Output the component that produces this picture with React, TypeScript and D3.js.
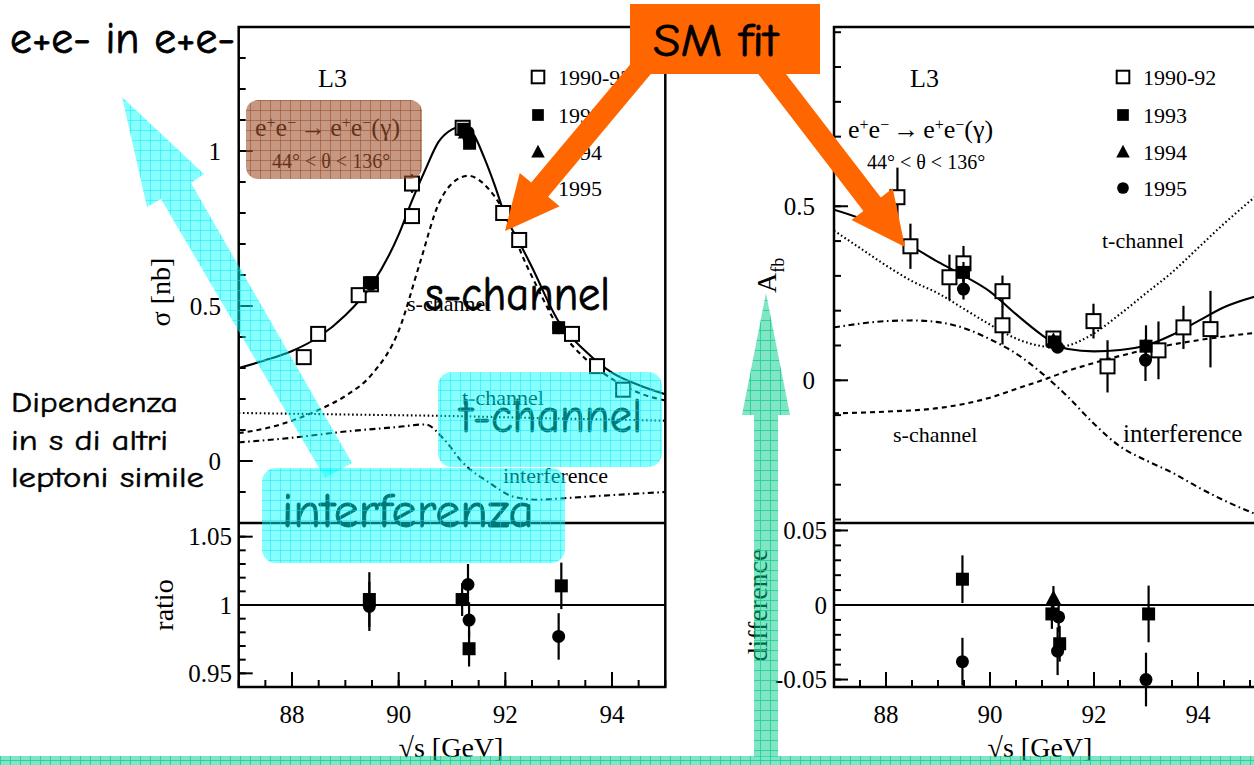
import React from "react";
import * as d3 from "d3";

type Pt = [number, number, number]; // √s, value, error
type XY = [number, number];

// ---------- e+e- → e+e-(γ) cross section (left panel) ----------
const SIGMA_9092: Pt[] = [
  [88.22, 0.335, 0.02], [88.49, 0.41, 0.015], [89.25, 0.535, 0.015], [89.48, 0.57, 0.015],
  [90.25, 0.79, 0.025], [90.25, 0.895, 0.03], [91.2, 1.075, 0.02], [91.96, 0.8, 0.02],
  [92.26, 0.713, 0.02], [93.25, 0.41, 0.015], [93.72, 0.306, 0.015], [94.21, 0.23, 0.015],
];
const SIGMA_93: Pt[] = [[89.48, 0.575, 0.01], [91.22, 1.07, 0.01], [91.33, 1.025, 0.01], [93.0, 0.43, 0.01]];
const SIGMA_94: Pt[] = [[91.25, 1.06, 0.01]];
const SIGMA_95: Pt[] = [[89.48, 0.57, 0.01], [91.3, 1.06, 0.01], [91.32, 1.04, 0.01], [93.0, 0.43, 0.01]];

const SIGMA_FIT: XY[] = [
  [87, 0.3], [87.5, 0.325], [88, 0.355], [88.5, 0.4], [89, 0.47], [89.5, 0.57], [90, 0.73],
  [90.25, 0.84], [90.5, 0.94], [90.75, 1.03], [91, 1.07], [91.2, 1.08], [91.4, 1.055],
  [91.6, 0.98], [91.8, 0.89], [92, 0.79], [92.25, 0.71], [92.5, 0.625], [93, 0.45],
  [93.5, 0.355], [94, 0.285], [94.5, 0.245], [95, 0.215],
];
const SIGMA_S: XY[] = [
  [87, 0.09], [87.5, 0.105], [88, 0.13], [88.5, 0.165], [89, 0.21], [89.5, 0.28], [90, 0.42],
  [90.4, 0.64], [90.75, 0.83], [91, 0.895], [91.3, 0.92], [91.7, 0.875], [92.1, 0.76],
  [92.3, 0.67], [92.6, 0.56], [93, 0.43], [93.5, 0.33], [94, 0.265], [94.5, 0.22], [95, 0.195],
];
const SIGMA_T: XY[] = [[87, 0.155], [89, 0.15], [91, 0.145], [93, 0.137], [95, 0.13]];
const SIGMA_INT: XY[] = [
  [87, 0.06], [88, 0.075], [89, 0.095], [90, 0.11], [90.5, 0.118], [90.85, 0.07], [91.2, -0.005],
  [91.7, -0.07], [92.15, -0.115], [92.6, -0.125], [93.1, -0.12], [94, -0.11], [95, -0.1],
];
const RATIO_93: Pt[] = [[89.45, 1.004, 0.02], [91.19, 1.004, 0.012], [91.32, 0.968, 0.013], [93.05, 1.014, 0.017]];
const RATIO_95: Pt[] = [[89.45, 0.999, 0.018], [91.3, 1.015, 0.015], [91.32, 0.989, 0.013], [93.0, 0.977, 0.017]];

// ---------- forward-backward asymmetry (right panel) ----------
const AFB_9092: Pt[] = [
  [88.22, 0.526, 0.085], [88.47, 0.385, 0.065], [89.22, 0.296, 0.065], [89.49, 0.336, 0.05],
  [90.24, 0.256, 0.045], [90.24, 0.158, 0.055], [91.22, 0.12, 0.02], [91.99, 0.17, 0.05],
  [92.26, 0.04, 0.075], [93.24, 0.086, 0.083], [93.72, 0.152, 0.062], [94.24, 0.147, 0.11],
];
const AFB_93: Pt[] = [[89.49, 0.31, 0.03], [91.24, 0.11, 0.015], [93.0, 0.098, 0.06]];
const AFB_94: Pt[] = [[91.22, 0.115, 0.015]];
const AFB_95: Pt[] = [[89.49, 0.262, 0.03], [91.3, 0.095, 0.015], [92.99, 0.058, 0.06]];

const AFB_FIT: XY[] = [
  [87, 0.49], [87.5, 0.465], [88, 0.43], [88.5, 0.385], [89, 0.34], [89.5, 0.3], [90, 0.255],
  [90.5, 0.19], [91, 0.13], [91.25, 0.105], [91.5, 0.09], [92, 0.083], [92.5, 0.087],
  [93, 0.1], [93.5, 0.13], [94, 0.17], [94.5, 0.21], [95.2, 0.245],
];
const AFB_T: XY[] = [
  [87, 0.43], [87.5, 0.38], [88, 0.33], [88.5, 0.285], [89, 0.25], [89.5, 0.205], [90, 0.16],
  [90.5, 0.12], [91, 0.098], [91.25, 0.095], [91.5, 0.1], [92, 0.135], [92.5, 0.19],
  [93, 0.25], [93.5, 0.31], [94, 0.38], [94.5, 0.45], [95.2, 0.54],
];
const AFB_S: XY[] = [
  [87, -0.095], [88, -0.09], [89, -0.08], [89.5, -0.068], [90, -0.05], [90.5, -0.025],
  [91, 0], [91.5, 0.027], [92, 0.05], [92.5, 0.07], [93, 0.088], [94, 0.115], [95.2, 0.138],
];
const AFB_INT: XY[] = [
  [87, 0.152], [88, 0.17], [88.5, 0.172], [89, 0.167], [89.5, 0.15], [90, 0.118], [90.5, 0.077],
  [91, 0.02], [91.5, -0.048], [92, -0.125], [92.5, -0.19], [93, -0.23], [93.5, -0.265],
  [94, -0.307], [94.5, -0.345], [95.2, -0.39],
];
const DIFF_93: Pt[] = [[89.47, 0.0173, 0.016], [91.19, -0.006, 0.01], [91.34, -0.026, 0.012], [93.05, -0.006, 0.019]];
const DIFF_94: Pt[] = [[91.22, 0.0047, 0.008]];
const DIFF_95: Pt[] = [[89.47, -0.038, 0.016], [91.32, -0.008, 0.01], [91.3, -0.031, 0.016], [93.0, -0.05, 0.018]];

// ---------- axes / labels ----------
const X_TICKS = [88, 90, 92, 94];
const SIGMA_TICKS = [0, 0.5, 1];
const RATIO_TICKS = [0.95, 1, 1.05];
const AFB_TICKS = [0, 0.5];
const DIFF_TICKS = [-0.05, 0, 0.05];
const LEGEND_YEARS = ["1990-92", "1993", "1994", "1995"];
const LEGEND_KINDS = ["open", "sq", "tri", "dot"];

const W = 1254;
const H = 765;
const SERIF = "'Liberation Serif', 'DejaVu Serif', serif";
const HAND = "'Comic Sans MS', 'Comic Neue', 'Noto Sans', sans-serif";

const TOP = 27;
const MID = 523;
const BOT = 687;

const xL = d3.scaleLinear().domain([87, 95]).range([238.7, 665.3]);
const xR = d3.scaleLinear().domain([87, 95]).range([834, 1250]);
const ySig = d3.scaleLinear().domain([-0.2, 1.4]).range([MID, TOP]);
const yRat = d3.scaleLinear().domain([0.94, 1.06]).range([BOT, MID]);
const yAfb = d3.scaleLinear().domain([-0.41, 1.015]).range([MID, TOP]);
const yDif = d3.scaleLinear().domain([-0.055, 0.055]).range([BOT, MID]);
const R_RIGHT = 1258;

const r3 = (v: number) => Math.round(v * 1000) / 1000;

function Marker({ kind, x, y, s = 1 }: { kind: string; x: number; y: number; s?: number }) {
  if (kind === "open")
    return <rect x={x - 7 * s} y={y - 7 * s} width={14 * s} height={14 * s} fill="#fff" stroke="#000" strokeWidth={2} />;
  if (kind === "sq")
    return <rect x={x - 6.5 * s} y={y - 6.5 * s} width={13 * s} height={13 * s} fill="#000" />;
  if (kind === "tri")
    return <path d={`M${x},${y - 8 * s}L${x + 7.5 * s},${y + 6 * s}L${x - 7.5 * s},${y + 6 * s}Z`} fill="#000" />;
  return <circle cx={x} cy={y} r={6.5 * s} fill="#000" />;
}

function Series({ data, kind, xs, ys }: { data: Pt[]; kind: string; xs: any; ys: any }) {
  return (
    <g>
      {data.map((d, i) => (
        <g key={i}>
          <line x1={xs(d[0])} x2={xs(d[0])} y1={ys(d[1] - d[2])} y2={ys(d[1] + d[2])} stroke="#000" strokeWidth={2.2} />
          <Marker kind={kind} x={xs(d[0])} y={ys(d[1])} />
        </g>
      ))}
    </g>
  );
}

function Curve({ data, xs, ys, dash, clip }: { data: XY[]; xs: any; ys: any; dash?: string; clip: string }) {
  const gen = d3
    .line<XY>()
    .x((d) => xs(d[0]))
    .y((d) => ys(d[1]))
    .curve(d3.curveMonotoneX);
  return (
    <path d={gen(data) || ""} fill="none" stroke="#000" strokeWidth={2.1} strokeDasharray={dash} clipPath={`url(#${clip})`} />
  );
}

function YTicks({ ys, x0, minor, major, labels, labelX }: { ys: any; x0: number; minor: number[]; major: number[]; labels: string[]; labelX: number }) {
  return (
    <g>
      {minor.map((v, i) => (
        <line key={"m" + i} x1={x0} x2={x0 + 7} y1={ys(v)} y2={ys(v)} stroke="#000" strokeWidth={2} />
      ))}
      {major.map((v, i) => (
        <g key={"M" + i}>
          <line x1={x0} x2={x0 + 14} y1={ys(v)} y2={ys(v)} stroke="#000" strokeWidth={2} />
          <text x={labelX} y={ys(v)} dy="0.35em" textAnchor="end" fontFamily={SERIF} fontSize={25}>
            {labels[i]}
          </text>
        </g>
      ))}
    </g>
  );
}

function XTicks({ xs }: { xs: any }) {
  const minor = d3.range(87, 95.01, 0.5).map(r3);
  return (
    <g>
      {minor.map((v, i) => (
        <line key={"m" + i} x1={xs(v)} x2={xs(v)} y1={BOT} y2={BOT - 7} stroke="#000" strokeWidth={2} />
      ))}
      {X_TICKS.map((v) => (
        <g key={v}>
          <line x1={xs(v)} x2={xs(v)} y1={BOT} y2={BOT - 15} stroke="#000" strokeWidth={2} />
          <text x={xs(v)} y={723} textAnchor="middle" fontFamily={SERIF} fontSize={25}>
            {v}
          </text>
        </g>
      ))}
    </g>
  );
}

function Reaction({ x, y, x2, y2 }: { x: number; y: number; x2: number; y2: number }) {
  const sup = { baselineShift: "super", fontSize: 16 } as any;
  return (
    <g fontFamily={SERIF} fill="#000">
      <text x={x} y={y} fontSize={26}>
        e<tspan style={sup}>+</tspan>e<tspan style={sup}>−</tspan>
        <tspan dx={4}>→</tspan>
        <tspan dx={4}>e</tspan>
        <tspan style={sup}>+</tspan>e<tspan style={sup}>−</tspan>(γ)
      </text>
      <text x={x2} y={y2} fontSize={20}>
        44° &lt; θ &lt; 136°
      </text>
    </g>
  );
}

function Legend({ mx, tx }: { mx: number; tx: number }) {
  const rows = [77, 115, 152, 188];
  return (
    <g>
      {LEGEND_YEARS.map((t, i) => (
        <g key={t}>
          <Marker kind={LEGEND_KINDS[i]} x={mx} y={rows[i]} s={0.9} />
          <text x={tx} y={rows[i] + 8} fontFamily={SERIF} fontSize={22}>
            {t}
          </text>
        </g>
      ))}
    </g>
  );
}

function arrowPoints(tail: XY, tip: XY, shaft: number, head: number, headLen: number) {
  const dx = tip[0] - tail[0];
  const dy = tip[1] - tail[1];
  const len = Math.hypot(dx, dy);
  const ux = dx / len;
  const uy = dy / len;
  const nx = -uy;
  const ny = ux;
  const bx = tip[0] - ux * headLen;
  const by = tip[1] - uy * headLen;
  const p = (x: number, y: number, k: number) => `${x + nx * k},${y + ny * k}`;
  return [
    p(tail[0], tail[1], shaft / 2),
    p(bx, by, shaft / 2),
    p(bx, by, head / 2),
    `${tip[0]},${tip[1]}`,
    p(bx, by, -head / 2),
    p(bx, by, -shaft / 2),
    p(tail[0], tail[1], -shaft / 2),
  ].join(" ");
}

export default function App() {
  const sigMinor = d3.range(-0.2, 1.401, 0.1).map(r3);
  const ratMinor = d3.range(0.94, 1.0601, 0.01).map(r3);
  const afbMinor = d3.range(-0.4, 1.001, 0.1).map(r3);
  const difMinor = d3.range(-0.05, 0.0501, 0.01).map(r3);
  const handStroke = { stroke: "#000", strokeWidth: 0.8 };

  return (
    <svg width={W} height={H} style={{ position: "absolute", left: 0, top: 0, display: "block", background: "#fff" }}>
      <defs>
        <clipPath id="clipL">
          <rect x={xL(87)} y={TOP} width={xL(95) - xL(87)} height={MID - TOP} />
        </clipPath>
        <clipPath id="clipR">
          <rect x={xR(87)} y={TOP} width={R_RIGHT - xR(87)} height={MID - TOP} />
        </clipPath>
        <pattern id="gridCyan" width={10} height={10} patternUnits="userSpaceOnUse">
          <rect width={10} height={10} fill="#00ffff" fillOpacity={0.47} />
          <path d="M0 0.5H10M0.5 0V10" stroke="#00e8f2" strokeWidth={1} strokeOpacity={0.45} />
        </pattern>
        <pattern id="gridBrown" width={10} height={10} patternUnits="userSpaceOnUse">
          <rect width={10} height={10} fill="#a0522d" fillOpacity={0.6} />
          <path d="M0 0.5H10M0.5 0V10" stroke="#8a3a18" strokeWidth={1} strokeOpacity={0.45} />
        </pattern>
        <pattern id="gridGreen" width={10} height={10} patternUnits="userSpaceOnUse">
          <rect width={10} height={10} fill="#00cc8c" fillOpacity={0.5} />
          <path d="M0 0.5H10M0.5 0V10" stroke="#1acf92" strokeWidth={1} strokeOpacity={0.8} />
        </pattern>
      </defs>

      {/* ===== left: cross section ===== */}
      <g>
        <Curve data={SIGMA_T} xs={xL} ys={ySig} dash="1.6,2.6" clip="clipL" />
        <Curve data={SIGMA_INT} xs={xL} ys={ySig} dash="6,3.5,1.6,3.5" clip="clipL" />
        <Curve data={SIGMA_S} xs={xL} ys={ySig} dash="5,4" clip="clipL" />
        <Curve data={SIGMA_FIT} xs={xL} ys={ySig} clip="clipL" />
        <Series data={SIGMA_9092} kind="open" xs={xL} ys={ySig} />
        <Series data={SIGMA_93} kind="sq" xs={xL} ys={ySig} />
        <Series data={SIGMA_94} kind="tri" xs={xL} ys={ySig} />
        <Series data={SIGMA_95} kind="dot" xs={xL} ys={ySig} />

        <text x={407} y={311} fontFamily={SERIF} fontSize={22}>s-channel</text>
        <text x={462} y={405} fontFamily={SERIF} fontSize={22}>t-channel</text>
        <text x={503} y={483} fontFamily={SERIF} fontSize={22}>interference</text>
        <text x={318} y={87} fontFamily={SERIF} fontSize={26}>L3</text>
        <Reaction x={255} y={136} x2={272} y2={168} />
        <Legend mx={538} tx={558} />

        <line x1={xL(87)} x2={xL(95)} y1={yRat(1)} y2={yRat(1)} stroke="#000" strokeWidth={2} />
        <Series data={RATIO_93} kind="sq" xs={xL} ys={yRat} />
        <Series data={RATIO_95} kind="dot" xs={xL} ys={yRat} />

        <rect x={xL(87)} y={TOP} width={xL(95) - xL(87)} height={BOT - TOP} fill="none" stroke="#000" strokeWidth={2.5} />
        <line x1={xL(87)} x2={xL(95)} y1={MID} y2={MID} stroke="#000" strokeWidth={2.5} />
        <YTicks ys={ySig} x0={xL(87)} minor={sigMinor} major={SIGMA_TICKS} labels={["0", "0.5", "1"]} labelX={221} />
        <YTicks ys={yRat} x0={xL(87)} minor={ratMinor} major={RATIO_TICKS} labels={["0.95", "1", "1.05"]} labelX={232} />
        <XTicks xs={xL} />

        <text transform="translate(170,292) rotate(-90)" textAnchor="middle" fontFamily={SERIF} fontSize={28}>σ [nb]</text>
        <text transform="translate(173,605) rotate(-90)" textAnchor="middle" fontFamily={SERIF} fontSize={28}>ratio</text>
        <text x={451} y={757} textAnchor="middle" fontFamily={SERIF} fontSize={28}>√s [GeV]</text>
      </g>

      {/* ===== right: asymmetry ===== */}
      <g>
        <Curve data={AFB_T} xs={xR} ys={yAfb} dash="1.6,2.6" clip="clipR" />
        <Curve data={AFB_INT} xs={xR} ys={yAfb} dash="6,3.5,1.6,3.5" clip="clipR" />
        <Curve data={AFB_S} xs={xR} ys={yAfb} dash="5,4" clip="clipR" />
        <Curve data={AFB_FIT} xs={xR} ys={yAfb} clip="clipR" />
        <Series data={AFB_9092} kind="open" xs={xR} ys={yAfb} />
        <Series data={AFB_93} kind="sq" xs={xR} ys={yAfb} />
        <Series data={AFB_94} kind="tri" xs={xR} ys={yAfb} />
        <Series data={AFB_95} kind="dot" xs={xR} ys={yAfb} />

        <text x={1102} y={248} fontFamily={SERIF} fontSize={22}>t-channel</text>
        <text x={893} y={442} fontFamily={SERIF} fontSize={22}>s-channel</text>
        <text x={1123} y={442} fontFamily={SERIF} fontSize={25}>interference</text>
        <text x={910} y={87} fontFamily={SERIF} fontSize={26}>L3</text>
        <Reaction x={848} y={138} x2={867} y2={169} />
        <Legend mx={1123} tx={1143} />

        <line x1={xR(87)} x2={R_RIGHT} y1={yDif(0)} y2={yDif(0)} stroke="#000" strokeWidth={2} />
        <Series data={DIFF_93} kind="sq" xs={xR} ys={yDif} />
        <Series data={DIFF_94} kind="tri" xs={xR} ys={yDif} />
        <Series data={DIFF_95} kind="dot" xs={xR} ys={yDif} />

        <rect x={xR(87)} y={TOP} width={R_RIGHT - xR(87)} height={BOT - TOP} fill="none" stroke="#000" strokeWidth={2.5} />
        <line x1={xR(87)} x2={R_RIGHT} y1={MID} y2={MID} stroke="#000" strokeWidth={2.5} />
        <YTicks ys={yAfb} x0={xR(87)} minor={afbMinor} major={AFB_TICKS} labels={["0", "0.5"]} labelX={815} />
        <YTicks ys={yDif} x0={xR(87)} minor={difMinor} major={DIFF_TICKS} labels={["-0.05", "0", "0.05"]} labelX={827} />
        <XTicks xs={xR} />

        <text transform="translate(776,293) rotate(-90)" fontFamily={SERIF} fontSize={28}>
          A<tspan fontSize={18} dy={8}>fb</tspan>
        </text>
        <text transform="translate(767,605) rotate(-90)" textAnchor="middle" fontFamily={SERIF} fontSize={28}>difference</text>
        <text x={1040} y={757} textAnchor="middle" fontFamily={SERIF} fontSize={28}>√s [GeV]</text>
      </g>

      {/* ===== annotations ===== */}
      <g fontFamily={HAND} {...handStroke}>
        <text x={460} y={432} fontSize={48} textLength={182} lengthAdjust="spacingAndGlyphs">t-channel</text>
        <text x={282} y={527} fontSize={48} textLength={252} lengthAdjust="spacingAndGlyphs">interferenza</text>
      </g>

      <rect x={246} y={100} width={176} height={79} rx={12} fill="url(#gridBrown)" />
      <rect x={438} y={372} width={224} height={95} rx={14} fill="url(#gridCyan)" />
      <rect x={262} y={468} width={303} height={95} rx={14} fill="url(#gridCyan)" />
      <polygon points="122,97 204,174 191,183 352,463 325,478 161,199 147,207" fill="url(#gridCyan)" />

      <g fontFamily={HAND} {...handStroke}>
        <text x={425} y={310} fontSize={48} textLength={185} lengthAdjust="spacingAndGlyphs">s-channel</text>
        <text x={10} y={53} fontSize={44} textLength={225} lengthAdjust="spacingAndGlyphs">e+e- in e+e-</text>
        <text x={11} y={412} fontSize={28} strokeWidth={0.5} textLength={167} lengthAdjust="spacingAndGlyphs">Dipendenza</text>
        <text x={11} y={450} fontSize={28} strokeWidth={0.5} textLength={157} lengthAdjust="spacingAndGlyphs">in s di altri</text>
        <text x={11} y={487} fontSize={28} strokeWidth={0.5} textLength={193} lengthAdjust="spacingAndGlyphs">leptoni simile</text>
      </g>

      <polygon points={arrowPoints([665, 40], [505, 231], 22, 52, 54)} fill="#ff6600" />
      <polygon points={arrowPoints([746, 40], [905, 247], 22, 52, 54)} fill="#ff6600" />
      <rect x={630} y={4} width={190} height={70} fill="#ff6600" />
      <text x={653} y={56} fontFamily={HAND} fontSize={46} stroke="#000" strokeWidth={0.8} textLength={125} lengthAdjust="spacingAndGlyphs">SM fit</text>

      <polygon points="766,293 790,415 778,415 778,757 754,757 754,415 742,415" fill="url(#gridGreen)" />
      <rect x={0} y={756} width={W} height={9} fill="url(#gridGreen)" />
    </svg>
  );
}
